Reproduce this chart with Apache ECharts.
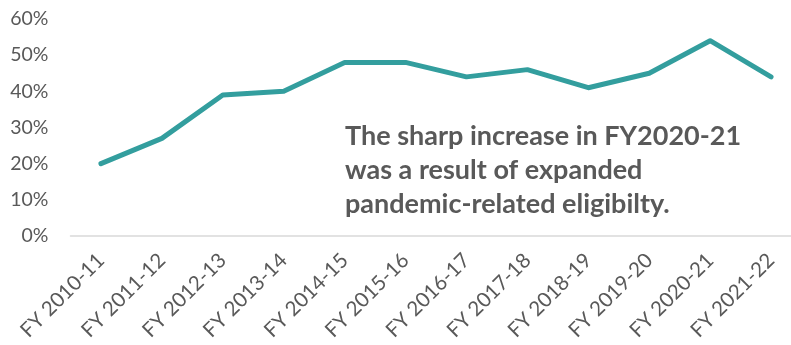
<!DOCTYPE html>
<html>
<head>
<meta charset="utf-8">
<script src="https://cdn.jsdelivr.net/npm/echarts@6/dist/echarts.min.js"></script>
<style>
  html, body { margin: 0; padding: 0; background: #ffffff; }
  #chart { width: 791px; height: 345px; }
</style>
</head>
<body>
<div id="chart"></div>
<script>
// Fiscal years on the category axis
const fiscalYears = [
  'FY 2010-11', 'FY 2011-12', 'FY 2012-13', 'FY 2013-14', 'FY 2014-15', 'FY 2015-16',
  'FY 2016-17', 'FY 2017-18', 'FY 2018-19', 'FY 2019-20', 'FY 2020-21', 'FY 2021-22'
];
// Share per fiscal year, in percent
const shareValues = [20, 27, 39, 40, 48, 48, 44, 46, 41, 45, 54, 44];
// Value-axis range and step, in percent
const yMin = 0;
const yMax = 60;
const yStep = 10;
// Callout text
const noteLines = [
  'The sharp increase in FY2020-21',
  'was a result of expanded',
  'pandemic-related eligibilty.'
];

const textFont = 'Lato, "Open Sans", sans-serif';
const chart = echarts.init(document.getElementById('chart'), null, { renderer: 'canvas' });

chart.setOption({
  animation: false,
  backgroundColor: '#ffffff',
  // the plot runs slightly past the right edge of the canvas
  grid: {
    left: 70.5, width: 731, top: 19, bottom: 109,
    containLabel: false, outerBoundsMode: 'none'
  },
  xAxis: {
    type: 'category',
    data: fiscalYears,
    boundaryGap: true,
    axisLine: { show: true, lineStyle: { color: '#d9d9d9', width: 1.5 } },
    axisTick: { show: false },
    axisLabel: {
      rotate: 45,
      interval: 0,
      margin: 21,
      color: '#595959',
      fontSize: 20.5,
      fontFamily: textFont
    },
    splitLine: { show: false }
  },
  yAxis: {
    type: 'value',
    min: yMin,
    max: yMax,
    interval: yStep,
    axisLine: { show: false },
    axisTick: { show: false },
    splitLine: { show: false },
    axisLabel: {
      margin: 22,
      color: '#595959',
      fontSize: 19.5,
      fontFamily: textFont,
      formatter: v => v + '%'
    }
  },
  series: [{
    type: 'line',
    data: shareValues,
    symbol: 'none',
    lineStyle: { color: '#339e9e', width: 5, cap: 'round', join: 'round' },
    itemStyle: { color: '#339e9e' }
  }],
  graphic: [{
    type: 'text',
    left: 345,
    top: 119,
    style: {
      text: noteLines.join('\n'),
      fill: '#595959',
      font: 'bold 27px ' + textFont,
      lineHeight: 34
    }
  }]
});
</script>
</body>
</html>
